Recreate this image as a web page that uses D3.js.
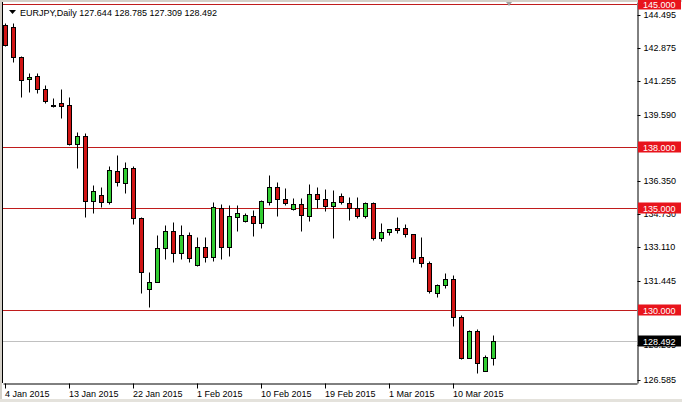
<!DOCTYPE html>
<html><head><meta charset="utf-8">
<script src="https://cdn.jsdelivr.net/npm/d3@7"></script>
<style>
body{margin:0;background:#fff;}
svg{display:block;}
text{font-family:"Liberation Sans",Arial,sans-serif;font-size:9px;}
</style>
</head><body>
<svg id="c" width="682" height="402"></svg>
<script>
// ---------- data ----------
const symbol = "EURJPY,Daily";
const headerOHLC = ["127.644", "128.785", "127.309", "128.492"];

const dates = [
 "2015-01-04","2015-01-05","2015-01-06","2015-01-07","2015-01-08","2015-01-09",
 "2015-01-11","2015-01-12","2015-01-13","2015-01-14","2015-01-15","2015-01-16",
 "2015-01-18","2015-01-19","2015-01-20","2015-01-21","2015-01-22","2015-01-23",
 "2015-01-25","2015-01-26","2015-01-27","2015-01-28","2015-01-29","2015-01-30",
 "2015-02-01","2015-02-02","2015-02-03","2015-02-04","2015-02-05","2015-02-06",
 "2015-02-08","2015-02-09","2015-02-10","2015-02-11","2015-02-12","2015-02-13",
 "2015-02-15","2015-02-16","2015-02-17","2015-02-18","2015-02-19","2015-02-20",
 "2015-02-22","2015-02-23","2015-02-24","2015-02-25","2015-02-26","2015-02-27",
 "2015-03-01","2015-03-02","2015-03-03","2015-03-04","2015-03-05","2015-03-06",
 "2015-03-08","2015-03-09","2015-03-10","2015-03-11","2015-03-12","2015-03-13",
 "2015-03-15","2015-03-16"
];

const opens = [
 143.99,143.87,142.40,141.32,141.48,140.83,140.06,140.14,140.06,138.13,
 138.54,135.36,135.64,135.29,136.84,136.22,136.95,134.50,131.02,131.39,
 133.03,133.88,132.81,133.68,132.19,133.08,132.62,135.02,133.11,134.58,
 134.38,134.63,134.26,135.32,136.02,135.43,134.94,135.19,134.63,135.68,
 135.43,135.10,135.60,135.27,134.99,134.63,135.24,133.52,133.81,134.01,
 134.01,133.72,132.59,132.29,130.82,131.23,131.51,129.64,127.66,128.97,
 127.02,127.644
];
const highs = [
 144.10,144.07,142.45,141.65,141.65,141.04,140.39,140.85,140.44,138.75,
 138.67,136.14,136.02,137.07,137.61,137.28,137.07,134.55,131.85,133.68,
 134.17,134.30,134.17,133.84,133.60,133.58,135.32,135.20,135.15,135.15,
 134.75,134.91,135.40,136.63,136.30,135.97,135.48,135.48,136.18,136.02,
 135.92,135.89,135.72,135.56,135.56,135.32,135.30,134.26,133.99,134.55,
 134.22,133.75,133.57,132.42,131.28,131.83,131.72,129.75,129.02,129.07,
 127.79,128.785
];
const lows = [
 142.95,142.19,140.47,140.71,140.64,140.14,139.98,139.41,138.10,136.95,
 134.58,134.78,135.07,135.20,136.09,135.76,134.21,130.85,130.13,131.35,
 132.49,132.34,132.49,132.34,132.15,132.38,132.42,132.49,132.65,133.89,
 134.33,133.65,134.01,135.15,134.63,135.15,134.91,133.89,134.38,134.99,
 134.87,133.52,135.21,134.42,134.50,134.50,133.44,133.40,133.68,133.76,
 133.60,132.37,132.10,130.85,130.65,131.07,129.21,127.59,127.62,126.89,
 126.99,127.309
];
const closes = [
 143.01,142.40,141.29,141.45,140.83,140.26,140.02,140.03,138.15,138.54,
 135.36,135.84,135.29,136.87,136.27,136.95,134.50,131.88,131.39,133.03,
 133.88,132.81,133.68,132.57,133.08,132.62,135.04,133.11,134.61,134.75,
 134.66,134.26,135.35,136.02,135.43,135.27,135.19,134.66,135.68,135.45,
 135.10,135.29,135.29,134.99,134.63,135.24,133.52,133.84,133.96,133.94,
 133.72,132.57,132.29,130.93,131.23,131.51,129.64,127.66,128.97,127.38,
 127.68,128.492
];

const priceTicks = [144.495,142.875,141.255,139.590,136.350,134.730,133.110,131.445,128.265,126.585];
const levels = [145.000,138.000,135.000,130.000];
const lastPrice = 128.492;
const dateTicks = ["2015-01-04","2015-01-13","2015-01-22","2015-02-01","2015-02-10","2015-02-19","2015-03-01","2015-03-10"];
const dateTickLabels = ["4 Jan 2015","13 Jan 2015","22 Jan 2015","1 Feb 2015","10 Feb 2015","19 Feb 2015","1 Mar 2015","10 Mar 2015"];

// ---------- layout ----------
const W = 682, H = 402;
const plot = {left: 3, right: 637, top: 2, bottom: 383};
const barsPerScreen = 79.25;
const priceMin = 126.4172, priceMax = 145.1166;
const FONT = '"Liberation Sans",Arial,sans-serif';

const svg = d3.select("#c");

const x = d3.scaleLinear().domain([-0.25, barsPerScreen - 0.25]).range([plot.left, plot.right]);
const y = d3.scaleLinear().domain([priceMin, priceMax]).range([plot.bottom, plot.top]);
const py = v => Math.round(y(v)) + 0.5;
const px = i => Math.round(x(i));

// frame
svg.append("rect").attr("x",0).attr("y",0).attr("width",W).attr("height",H).attr("fill","#fff");
svg.append("rect").attr("x",0).attr("y",0).attr("width",W).attr("height",2).attr("fill","#d4d0c8");
svg.append("rect").attr("x",0).attr("y",0).attr("width",2).attr("height",H).attr("fill","#d4d0c8");
svg.append("rect").attr("x",0).attr("y",H-3).attr("width",W).attr("height",3).attr("fill","#e4e2dc");
svg.append("line").attr("x1",plot.left-0.5).attr("x2",plot.left-0.5).attr("y1",plot.top).attr("y2",plot.bottom)
  .attr("stroke","#000");

svg.append("defs").append("clipPath").attr("id","pc").append("rect")
  .attr("x",plot.left).attr("y",plot.top).attr("width",plot.right-plot.left).attr("height",plot.bottom-plot.top);

const g = svg.append("g").attr("clip-path","url(#pc)");

// current price line
g.append("line").attr("x1",plot.left).attr("x2",plot.right)
  .attr("y1",py(lastPrice)).attr("y2",py(lastPrice)).attr("stroke","#c0c0c0");

// horizontal level lines
g.selectAll("line.lvl").data(levels).join("line").attr("class","lvl")
  .attr("x1",plot.left).attr("x2",plot.right)
  .attr("y1",d=>py(d)).attr("y2",d=>py(d))
  .attr("stroke","#c01c1c").attr("stroke-width",1);

// candles
const bars = dates.map((d,i)=>({d, i, o:opens[i], h:highs[i], l:lows[i], c:closes[i]}));
const cg = g.selectAll("g.cdl").data(bars).join("g").attr("class","cdl");
cg.append("line")
  .attr("x1",d=>px(d.i)+0.5).attr("x2",d=>px(d.i)+0.5)
  .attr("y1",d=>py(d.h)).attr("y2",d=>py(d.l))
  .attr("stroke","#000");
cg.append("rect")
  .attr("x",d=>px(d.i)-1.5)
  .attr("width",4)
  .attr("y",d=>Math.min(py(d.o),py(d.c)))
  .attr("height",d=>Math.max(0.001,Math.abs(py(d.o)-py(d.c))))
  .attr("fill",d=>d.c>=d.o ? "#32cd32" : "#d01414")
  .attr("stroke","#000");

// shift marker
svg.append("path").attr("d",d3.line()([[506,2],[512,2],[509,6]])+"Z").attr("fill","#a0a0a0");

// price axis
const yAxis = d3.axisRight(y).tickValues(priceTicks).tickFormat(d3.format(".3f"))
  .tickSize(3).tickSizeOuter(0).tickPadding(3);
const ya = svg.append("g").attr("transform",`translate(${plot.right+0.5},0)`).call(yAxis);
ya.selectAll("text").attr("font-family",FONT).attr("font-size",9).attr("fill","#000");
ya.selectAll(".tick").attr("transform",d=>`translate(0,${py(d)})`);

// date axis
const tickIdx = dateTicks.map(d=>dates.indexOf(d));
const xAxis = d3.axisBottom(x).tickValues(tickIdx).tickFormat((d,k)=>dateTickLabels[k])
  .tickSize(5).tickSizeOuter(0).tickPadding(2);
const xa = svg.append("g").attr("transform",`translate(0,${plot.bottom+0.5})`).call(xAxis);
xa.selectAll(".tick").attr("transform",d=>`translate(${px(d)+0.5},0)`);
xa.selectAll("text").attr("text-anchor","start").attr("x",-0.5)
  .attr("font-family",FONT).attr("font-size",9).attr("fill","#000");

// level labels
const lab = svg.append("g");
lab.selectAll("rect.ll").data(levels).join("rect").attr("class","ll")
  .attr("x",plot.right+1).attr("width",W-plot.right-2).attr("y",d=>py(d)-6).attr("height",11)
  .attr("fill","#e8141c");
lab.selectAll("text.ll").data(levels).join("text").attr("class","ll")
  .attr("x",plot.right+6).attr("y",d=>py(d)).attr("dy","0.35em")
  .attr("fill","#fff").text(d=>d3.format(".3f")(d));
lab.append("rect").attr("x",plot.right+1).attr("width",W-plot.right-2).attr("y",py(lastPrice)-6).attr("height",11)
  .attr("fill","#000");
lab.append("text").attr("x",plot.right+6).attr("y",py(lastPrice)).attr("dy","0.35em")
  .attr("fill","#fff").text(d3.format(".3f")(lastPrice));

// header
svg.append("path").attr("d",d3.line()([[9,10],[16,10],[12.5,14]])+"Z").attr("fill","#000");
svg.append("text").attr("x",20).attr("y",16).attr("fill","#000")
  .text(symbol + "  " + headerOHLC.join(" "));
</script>
</body></html>
